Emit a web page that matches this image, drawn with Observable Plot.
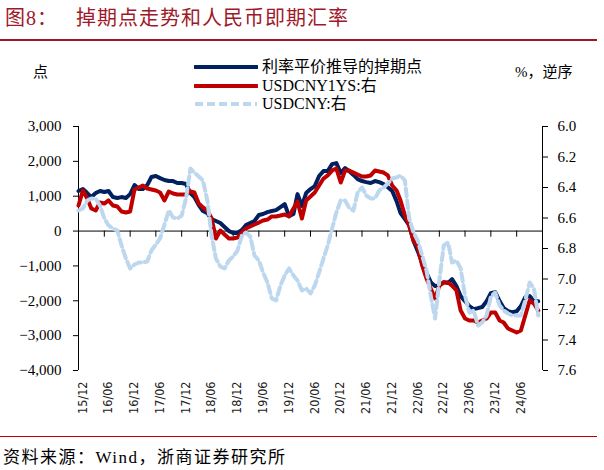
<!DOCTYPE html>
<html><head><meta charset="utf-8">
<script src="https://cdn.jsdelivr.net/npm/d3@7"></script>
<script src="https://cdn.jsdelivr.net/npm/@observablehq/plot@0.6"></script>
<style>
body{margin:0;background:#fff;}
#wrap{position:relative;width:604px;height:470px;overflow:hidden;font-family:"Liberation Serif","Noto Sans CJK SC",serif;color:#000;}
.abs{position:absolute;white-space:nowrap;}
#title{left:5px;top:5px;font-size:20px;color:#A0192A;letter-spacing:1px;line-height:26px;}
#tline{left:0;top:39px;width:597px;height:1.5px;background:#A0192A;}
#fline{left:0;top:436px;width:597px;height:1px;background:#C00000;}
#foot{left:3px;top:446px;font-size:17px;letter-spacing:1.5px;line-height:24px;}
.unit{font-size:15px;line-height:20px;top:62px;}
.leg{font-size:16px;line-height:20px;left:262px;}
.sw{left:194px;}
</style></head><body>
<div id="wrap">
  <div id="chart" class="abs" style="left:0;top:0"></div>
  <div id="title" class="abs">图8：&nbsp;&nbsp;&nbsp;掉期点走势和人民币即期汇率</div>
  <div id="tline" class="abs"></div>
  <div class="abs unit" style="left:33px">点</div>
  <div class="abs unit" style="left:515px">%，逆序</div>
  <div id="legend"></div>
  <div id="fline" class="abs"></div>
  <div id="foot" class="abs">资料来源：Wind，浙商证券研究所</div>
</div>
<script>
// ---- data (monthly, from 2015-12) ----
const startMonth = "2015-12";
// 利率平价推导的掉期点 (left axis, points)
const swapPoints = [1150,1205,1090,975,1090,1150,1120,1150,975,950,
 975,950,1060,1320,1205,1205,1320,1550,1580,1520,
 1465,1435,1435,1380,1380,1350,1090,975,745,575,
 515,345,290,230,115,0,-55,-55,30,170,
 230,290,460,490,545,575,600,690,775,430,
 490,1060,720,1090,1205,1290,1580,1720,1720,1920,
 1950,1665,1810,1720,1610,1490,1435,1405,1380,1435,
 1405,1350,1260,1150,860,515,345,170,-285,-575,
 -915,-1200,-1465,-1580,-1550,-1465,-1490,-1380,-1580,-1865,
 -2010,-2150,-2240,-2210,-2180,-2010,-1780,-1750,-2010,-2210,
 -2300,-2325,-2300,-2150,-1895,-1865,-2010,-2010];
// USDCNY1YS (right axis, reversed)
const usdcny1ys = [6.518,6.420,6.472,6.538,6.551,6.498,6.505,6.485,6.518,6.525,
 6.557,6.564,6.557,6.413,6.400,6.387,6.407,6.413,6.420,6.433,
 6.485,6.426,6.439,6.446,6.446,6.446,6.426,6.433,6.505,6.531,
 6.551,6.603,6.734,6.682,6.708,6.734,6.734,6.728,6.695,6.669,
 6.656,6.643,6.630,6.616,6.610,6.590,6.590,6.584,6.577,6.590,
 6.538,6.492,6.603,6.485,6.459,6.433,6.387,6.341,6.321,6.289,
 6.275,6.367,6.289,6.289,6.302,6.315,6.328,6.328,6.321,6.289,
 6.295,6.302,6.321,6.387,6.420,6.485,6.584,6.649,6.748,6.787,
 6.911,6.997,7.062,7.128,7.043,7.023,7.023,7.043,7.075,7.207,
 7.259,7.272,7.272,7.285,7.272,7.259,7.220,7.220,7.272,7.285,
 7.325,7.338,7.351,7.338,7.239,7.141,7.161,7.207];
// USDCNY (right axis, reversed)
const usdcny = [6.551,6.538,6.485,6.472,6.472,6.518,6.603,6.649,6.669,6.682,
 6.780,6.866,6.931,6.905,6.892,6.892,6.885,6.813,6.774,6.734,
 6.643,6.551,6.597,6.603,6.584,6.472,6.275,6.302,6.328,6.354,
 6.485,6.715,6.866,6.918,6.931,6.879,6.852,6.813,6.715,6.695,
 6.721,6.846,6.879,6.957,7.023,7.128,7.141,7.043,6.977,6.931,
 6.977,7.010,7.075,7.062,7.095,7.043,6.957,6.866,6.780,6.669,
 6.564,6.485,6.485,6.531,6.551,6.433,6.400,6.452,6.472,6.472,
 6.420,6.400,6.374,6.341,6.334,6.321,6.354,6.603,6.695,6.748,
 6.846,6.944,7.108,7.259,7.010,6.780,6.761,6.892,6.879,6.931,
 7.108,7.220,7.207,7.305,7.285,7.239,7.115,7.089,7.174,7.207,
 7.226,7.239,7.239,7.239,7.141,7.023,7.062,7.239];
const leftTicks = [3000,2000,1000,0,-1000,-2000,-3000,-4000];
const rightTicks = [6.0,6.2,6.4,6.6,6.8,7.0,7.2,7.4,7.6];
const xTickLabels = ["15/12","16/06","16/12","17/06","17/12","18/06","18/12","19/06","19/12","20/06","20/12","21/06","21/12","22/06","22/12","23/06","23/12","24/06"];
const axisEnd = "2024-12";
const seriesNames = ["利率平价推导的掉期点","USDCNY1YS:右","USDCNY:右"];
const seriesColors = ["#002060","#C00000","#BDD7EE"];

// ---- build ----
const parseM = d3.utcParse("%Y-%m");
const t0 = parseM(startMonth), t1 = parseM(axisEnd);
const dates = swapPoints.map((_, i) => d3.utcMonth.offset(t0, i));
const rows = dates.map((d, i) => ({date: d, pts: swapPoints[i], fwd: usdcny1ys[i], spot: usdcny[i]}));
const parseTick = d3.utcParse("%y/%m");
const labelDates = xTickLabels.map(parseTick);
const tickDates = labelDates.concat([t1]);
// right axis (reversed) aligned to left: 6.0 <-> 3000, 7.6 <-> -4000
const toLeft = v => 3000 - (v - 6.0) * 7000 / 1.6;
const fromLeft = p => 6.0 + (3000 - p) * 1.6 / 7000;

const plot = Plot.plot({
  width: 604, height: 420,
  marginTop: 126, marginBottom: 50, marginLeft: 78, marginRight: 62,
  x: {type: "utc", domain: [t0, t1], axis: null},
  y: {domain: [-4000, 3000], axis: null},
  style: {fontFamily: "'Liberation Serif', serif", fontSize: "15px", color: "#000", background: "transparent", overflow: "visible"},
  marks: [
    Plot.ruleY([0], {stroke: "#000", strokeWidth: 1}),
    Plot.ruleX(tickDates, {x: d => d, y1: 0, y2: -175, stroke: "#000", strokeWidth: 1}),
    Plot.ruleX([t0, t1], {stroke: "#000", strokeWidth: 1}),
    Plot.axisY(leftTicks, {anchor: "left", tickSize: 5, tickPadding: 12, tickFormat: d3.format(","), label: null, fontSize: 15}),
    Plot.axisY(rightTicks.map(toLeft), {anchor: "right", tickSize: 5, tickPadding: 10, tickFormat: d => fromLeft(d).toFixed(1), label: null, fontSize: 15}),
    Plot.axisX(labelDates, {anchor: "bottom", tickSize: 0, tickRotate: -90, tickPadding: 11, tickFormat: d3.utcFormat("%y/%m"), label: null, fontFamily: "'DejaVu Sans Condensed','DejaVu Sans',sans-serif", fontSize: 12.5, fill: "#222", dx: 4}),
    Plot.line(rows, {x: "date", y: "pts", stroke: seriesColors[0], strokeWidth: 4, strokeLinejoin: "round"}),
    Plot.line(rows, {x: "date", y: d => toLeft(d.fwd), stroke: seriesColors[1], strokeWidth: 4, strokeLinejoin: "round"}),
    Plot.line(rows, {x: "date", y: d => toLeft(d.spot), stroke: seriesColors[2], strokeWidth: 4, strokeDasharray: "8,4"})
  ]
});
document.getElementById("chart").appendChild(plot);

// legend
const leg = document.getElementById("legend");
const rowsY = [67, 86, 104];
seriesNames.forEach((name, i) => {
  const sw = document.createElementNS("http://www.w3.org/2000/svg", "svg");
  sw.setAttribute("width", 64); sw.setAttribute("height", 8);
  sw.setAttribute("class", "abs sw");
  sw.style.top = (rowsY[i] - 4) + "px";
  const ln = document.createElementNS("http://www.w3.org/2000/svg", "line");
  ln.setAttribute("x1", 1); ln.setAttribute("x2", 63); ln.setAttribute("y1", 4); ln.setAttribute("y2", 4);
  ln.setAttribute("stroke", seriesColors[i]); ln.setAttribute("stroke-width", 4);
  ln.setAttribute("stroke-linecap", i === 2 ? "butt" : "round");
  if (i === 2) ln.setAttribute("stroke-dasharray", "8,4");
  sw.appendChild(ln);
  leg.appendChild(sw);
  const tx = document.createElement("div");
  tx.className = "abs leg";
  tx.style.top = (rowsY[i] - 10) + "px";
  tx.textContent = name;
  leg.appendChild(tx);
});
</script>
</body></html>
